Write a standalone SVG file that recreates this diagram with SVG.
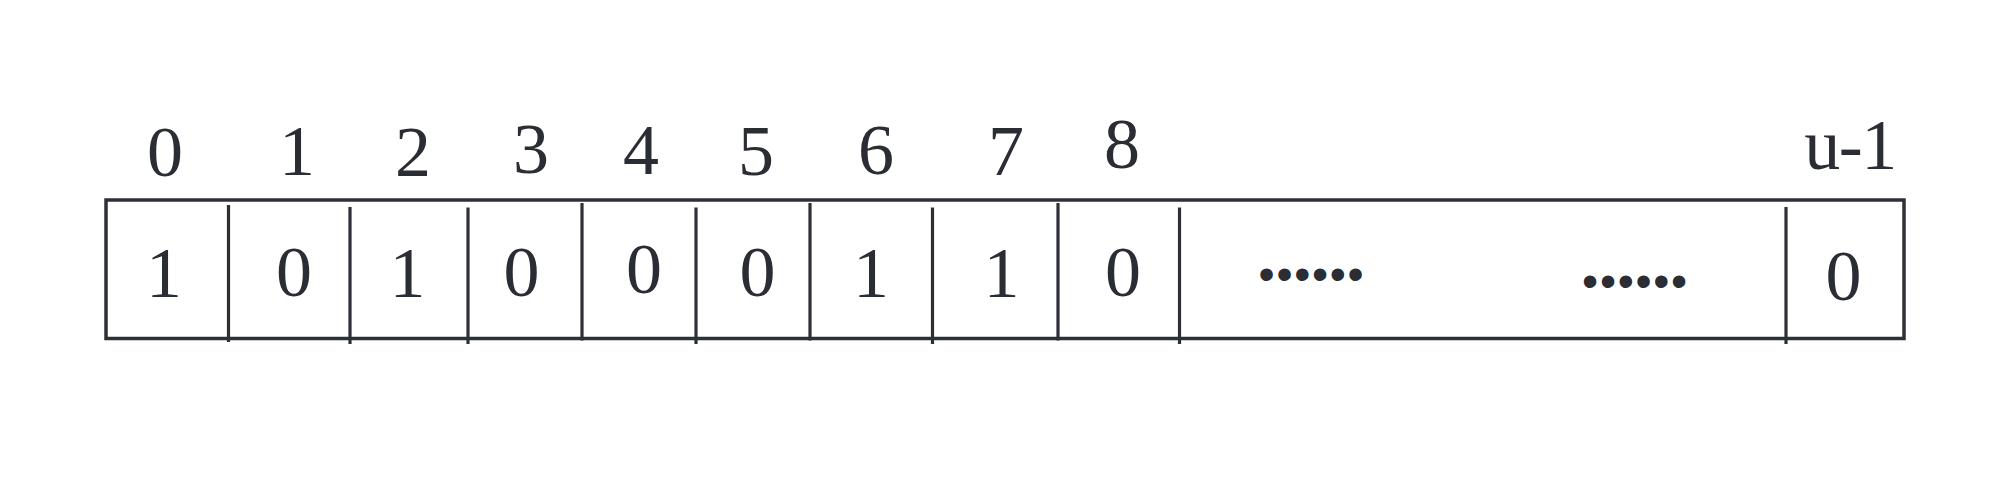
<svg xmlns="http://www.w3.org/2000/svg" width="2000" height="502" viewBox="0 0 2000 502">
<style>
.t{font-family:"Liberation Serif","Times New Roman",serif;font-size:72px;fill:#2b2d35;text-anchor:middle}
.d{font-family:"Liberation Sans",Arial,sans-serif;font-size:46px;letter-spacing:1.7px;fill:#2b2d35;text-anchor:middle}
.box{fill:none;stroke:#2e3038;stroke-width:3.5}
.div{stroke:#2e3038;stroke-width:3.2}
</style>
<rect width="2000" height="502" fill="#ffffff"/>
<g id="array">
<rect class="box" x="106" y="200" width="1798" height="138.5"/>
<line class="div" x1="228.5" y1="205" x2="228.5" y2="342"/>
<line class="div" x1="350" y1="207" x2="350" y2="344"/>
<line class="div" x1="468" y1="207.5" x2="468" y2="344"/>
<line class="div" x1="582" y1="203" x2="582" y2="340.5"/>
<line class="div" x1="696" y1="207.5" x2="696" y2="344"/>
<line class="div" x1="810" y1="203" x2="810" y2="340.5"/>
<line class="div" x1="932.5" y1="207.5" x2="932.5" y2="344"/>
<line class="div" x1="1058" y1="203" x2="1058" y2="340.5"/>
<line class="div" x1="1179.5" y1="207.5" x2="1179.5" y2="344"/>
<line class="div" x1="1786" y1="207" x2="1786" y2="344"/>
</g>
<g id="cell-0"><text class="t" x="165" y="176">0</text><text class="t" x="164" y="296.5">1</text></g>
<g id="cell-1"><text class="t" x="297" y="174.5">1</text><text class="t" x="294" y="296">0</text></g>
<g id="cell-2"><text class="t" x="413" y="176">2</text><text class="t" x="407.5" y="296.5">1</text></g>
<g id="cell-3"><text class="t" x="531" y="173">3</text><text class="t" x="521.5" y="296">0</text></g>
<g id="cell-4"><text class="t" x="641" y="174">4</text><text class="t" x="644" y="293">0</text></g>
<g id="cell-5"><text class="t" x="756" y="175">5</text><text class="t" x="757.5" y="296">0</text></g>
<g id="cell-6"><text class="t" x="876" y="174">6</text><text class="t" x="871" y="296.5">1</text></g>
<g id="cell-7"><text class="t" x="1006" y="175">7</text><text class="t" x="1001.5" y="296.5">1</text></g>
<g id="cell-8"><text class="t" x="1122" y="168">8</text><text class="t" x="1123" y="296">0</text></g>
<g id="ellipsis"><text class="d" x="1312" y="290">••••••</text><text class="d" x="1635.5" y="296.5">••••••</text></g>
<g id="cell-u-1"><text class="t" x="1850" y="169" style="letter-spacing:-1.5px">u-1</text><text class="t" x="1843.5" y="299.5">0</text></g>
</svg>
